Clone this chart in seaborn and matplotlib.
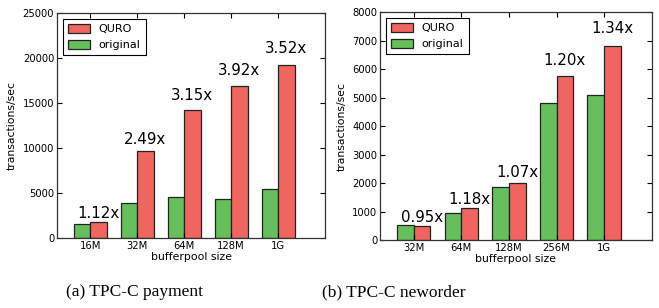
import matplotlib
matplotlib.use("Agg")
from matplotlib import pyplot as plt
import pandas as pd
import seaborn as sns

# TPC-C payment
pay_sizes = ['16M', '32M', '64M', '128M', '1G']
pay_orig = [1600, 3900, 4540, 4330, 5470]
pay_quro = [1800, 9700, 14300, 16950, 19250]
pay_speedup = ['1.12x', '2.49x', '3.15x', '3.92x', '3.52x']

# TPC-C neworder
new_sizes = ['32M', '64M', '128M', '256M', '1G']
new_orig = [510, 940, 1870, 4820, 5080]
new_quro = [490, 1110, 2000, 5770, 6830]
new_speedup = ['0.95x', '1.18x', '1.07x', '1.20x', '1.34x']

RED = '#EE665F'
GREEN = '#66BF5A'

plt.rcParams['font.family'] = 'DejaVu Sans'
plt.rcParams['xtick.direction'] = 'in'
plt.rcParams['ytick.direction'] = 'in'
plt.rcParams['xtick.top'] = True
plt.rcParams['ytick.right'] = True


def make_df(sizes, orig, quro):
    return pd.DataFrame({
        'size': sizes * 2,
        'tps': orig + quro,
        'system': ['original'] * len(sizes) + ['QURO'] * len(sizes),
    })


def draw(ax, sizes, orig, quro, labels, ymax, ystep):
    df = make_df(sizes, orig, quro)
    sns.barplot(data=df, x='size', y='tps', hue='system', hue_order=['original', 'QURO'],
                palette={'original': GREEN, 'QURO': RED}, saturation=1, width=0.7, gap=0,
                edgecolor='#222222', linewidth=0.9, errorbar=None, ax=ax)
    for i, (q, lab) in enumerate(zip(quro, labels)):
        ax.text(i + 0.175, 1.05 * q, lab, ha='center', va='bottom', fontsize=10.8)
    ax.set_xlim(-0.71, 5.0)
    ax.set_ylim(0, ymax)
    ax.set_yticks(range(0, ymax + 1, ystep))
    ax.set_xlabel('bufferpool size', fontsize=7.8, labelpad=1)
    ax.set_ylabel('transactions/sec', fontsize=7.8, labelpad=4)
    ax.tick_params(labelsize=7.2, length=3.5, width=0.8, pad=2)
    for s in ax.spines.values():
        s.set_linewidth(0.9)
        s.set_color('#333333')
    handles, hl = ax.get_legend_handles_labels()
    order = [hl.index('QURO'), hl.index('original')]
    leg = ax.legend([handles[k] for k in order], [hl[k] for k in order], loc='upper left',
                    fontsize=8, fancybox=False, edgecolor='black', framealpha=1,
                    handlelength=2.0, handleheight=0.9, borderpad=0.45, labelspacing=0.5,
                    borderaxespad=0.5)
    leg.get_frame().set_linewidth(0.8)


fig = plt.figure(figsize=(6.59, 3.08), dpi=100)
ax1 = fig.add_axes([0.0865, 0.2263, 0.4067, 0.7305])
ax2 = fig.add_axes([0.5766, 0.2208, 0.4123, 0.739])

draw(ax1, pay_sizes, pay_orig, pay_quro, pay_speedup, 25000, 5000)
draw(ax2, new_sizes, new_orig, new_quro, new_speedup, 8000, 1000)

fig.text(135 / 659, 1 - 292 / 308, '(a) TPC-C payment', ha='center', va='center',
         fontsize=12.5, family='Liberation Serif')
fig.text(394 / 659, 1 - 292 / 308, '(b) TPC-C neworder', ha='center', va='center',
         fontsize=12.5, family='Liberation Serif')

fig.savefig('out.png', dpi=100)
